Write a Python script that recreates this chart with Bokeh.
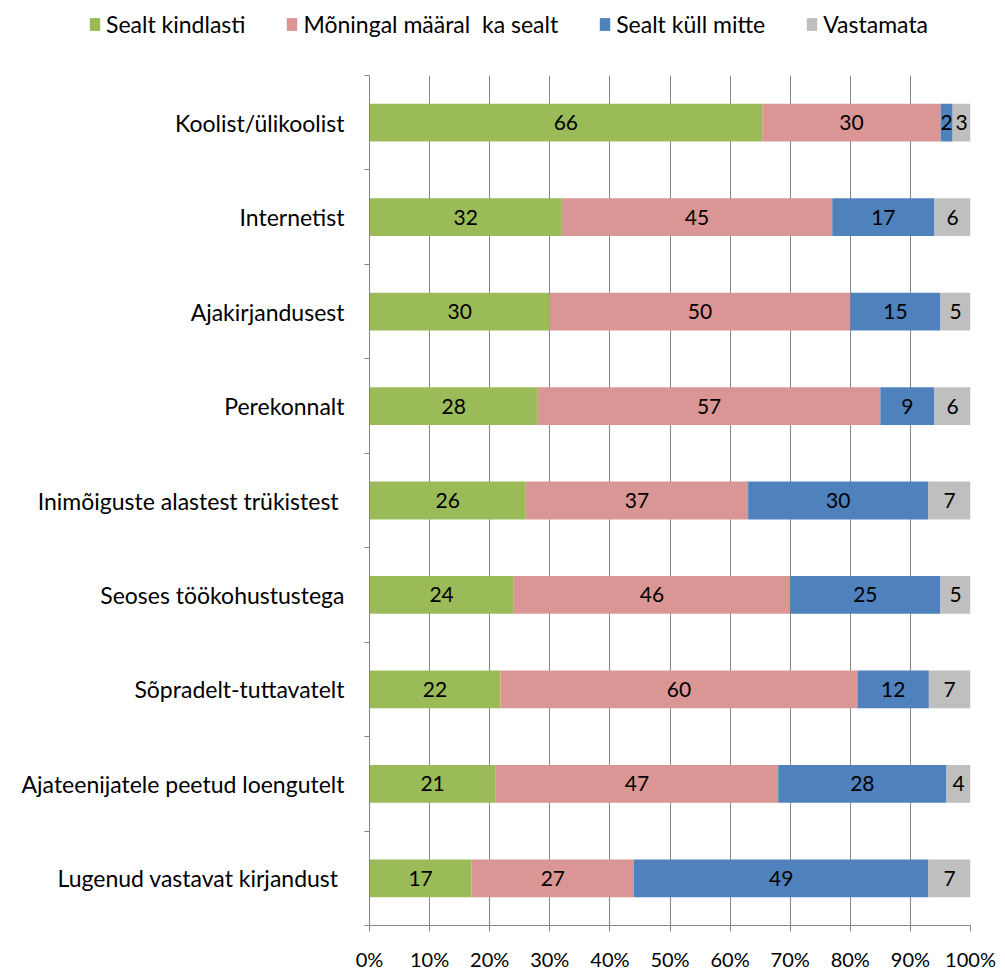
from bokeh.plotting import figure
from bokeh.models import (ColumnDataSource, FixedTicker, PrintfTickFormatter,
                          Legend, LegendItem, Range1d)
from bokeh.core.properties import value
from bokeh.embed import file_html
from bokeh.resources import INLINE

categories = [
    "Koolist/ülikoolist",
    "Internetist",
    "Ajakirjandusest",
    "Perekonnalt",
    "Inimõiguste alastest  trükistest",
    "Seoses töökohustustega",
    "Sõpradelt-tuttavatelt",
    "Ajateenijatele peetud loengutelt",
    "Lugenud vastavat  kirjandust",
]
series_names = ["Sealt kindlasti", "Mõningal määral  ka sealt", "Sealt küll mitte", "Vastamata"]
sealt_kindlasti = [66, 32, 30, 28, 26, 24, 22, 21, 17]
moningal_maaral = [30, 45, 50, 57, 37, 46, 60, 47, 27]
sealt_kull_mitte = [2, 17, 15, 9, 30, 25, 12, 28, 49]
vastamata = [3, 6, 5, 6, 7, 5, 7, 4, 7]
x_ticks = [0, 10, 20, 30, 40, 50, 60, 70, 80, 90, 100]

colors = ["#9BBB59", "#DA9694", "#4F81BD", "#BFBFBF"]
FONT = "Lato"
GRID = "#868686"
W = 1000
LEG_H = 50

series = [sealt_kindlasti, moningal_maaral, sealt_kull_mitte, vastamata]
n = len(categories)
ypos = [n - 0.5 - i for i in range(n)]
totals = [sum(s[i] for s in series) for i in range(n)]

# ---- legend strip (separate root, stacked above the chart) ----
lg = figure(width=W, height=LEG_H, output_backend="svg", toolbar_location=None,
            x_range=Range1d(0, 1), y_range=Range1d(0, 1),
            min_border_left=0, min_border_right=0, min_border_top=0, min_border_bottom=0)
lg.axis.visible = False
lg.grid.visible = False
lg.outline_line_color = None
lg.border_fill_color = "white"
lg.background_fill_color = "white"
leg_renderers = []
for k in range(4):
    # legend swatch proxies, placed outside the visible range
    r = lg.hbar(y=[-5], left=[0], right=[1], height=1, fill_color=colors[k], line_color=None)
    leg_renderers.append(r)
legend = Legend(items=[LegendItem(label=series_names[k], renderers=[leg_renderers[k]]) for k in range(4)],
                orientation="horizontal", location=(88, 12),
                label_text_font=FONT, label_text_font_size="23px", label_text_color="black",
                glyph_width=13, glyph_height=16, label_standoff=5, spacing=40,
                padding=0, margin=0, border_line_color=None,
                background_fill_alpha=0)
lg.add_layout(legend, "center")

# ---- chart ----
p = figure(width=W, height=973 - LEG_H, output_backend="svg", toolbar_location=None,
           x_range=Range1d(0, 100), y_range=Range1d(0, n),
           min_border_left=369, min_border_right=30, min_border_top=75 - LEG_H,
           min_border_bottom=45)
p.outline_line_color = None
p.background_fill_color = "white"
p.border_fill_color = "white"

left = [0.0] * n
for k, s in enumerate(series):
    pct = [100.0 * s[i] / totals[i] for i in range(n)]
    right = [left[i] + pct[i] for i in range(n)]
    src = ColumnDataSource(dict(y=ypos, left=left, right=right,
                                xc=[(left[i] + right[i]) / 2 for i in range(n)],
                                lab=[str(v) for v in s]))
    p.hbar(y="y", left="left", right="right", height=0.4, source=src,
           fill_color=colors[k], line_color=None)
    p.text(x="xc", y="y", text="lab", source=src, text_align="center",
           text_baseline="middle", text_font=value(FONT), text_font_size="21px",
           text_color="black")
    left = right

xa = p.xaxis[0]
xa.ticker = FixedTicker(ticks=x_ticks)
xa.formatter = PrintfTickFormatter(format="%d%%")
xa.axis_line_color = GRID
xa.major_tick_line_color = GRID
xa.major_tick_out = 6
xa.major_tick_in = 0
xa.minor_tick_line_color = None
xa.major_label_text_font = FONT
xa.major_label_text_font_size = "20px"
xa.major_label_text_color = "black"
xa.major_label_standoff = 15

ya = p.yaxis[0]
ya.ticker = FixedTicker(ticks=ypos, minor_ticks=list(range(n + 1)))
ya.major_label_overrides = {y: c for y, c in zip(ypos, categories)}
ya.axis_line_color = GRID
ya.major_tick_line_color = None
ya.major_tick_out = 0
ya.major_tick_in = 0
ya.minor_tick_line_color = GRID
ya.minor_tick_out = 5
ya.minor_tick_in = 0
ya.major_label_text_font = FONT
ya.major_label_text_font_size = "23px"
ya.major_label_text_color = "black"
ya.major_label_standoff = 20

p.xgrid.ticker = FixedTicker(ticks=x_ticks)
p.xgrid.grid_line_color = GRID
p.xgrid.grid_line_width = 1
p.ygrid.grid_line_color = None
p.xgrid.level = "underlay"

open("out.html", "w").write(file_html([lg, p], INLINE))
